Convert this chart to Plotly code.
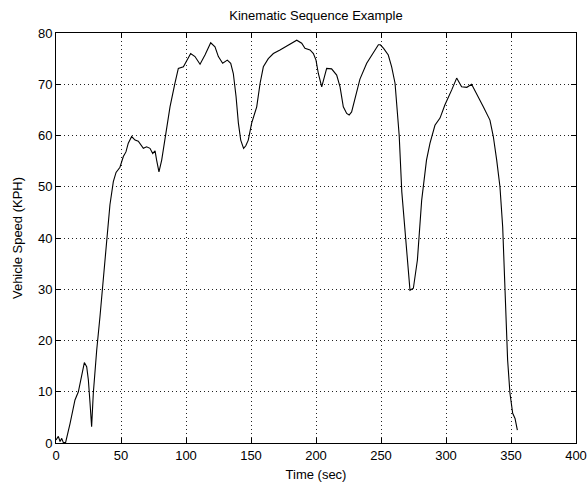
import plotly.graph_objects as go

time_sec = [0, 1.8, 3.1, 4.4, 5.6, 7.4, 10.8, 14.6, 17.2, 19.7, 21.8, 23.6, 24.9, 26.2, 27.4,
            28.7, 30, 31.3, 33.8, 36.4, 39, 41.5, 44.1, 46.2, 49.2, 51.8, 53.8, 55.6, 58.2,
            60.8, 63.3, 67.2, 69.7, 72.3, 74.4, 76.2, 77.4, 79.2, 81.3, 83.8, 85.6, 87.7,
            91.5, 94.1, 98, 100.5, 103.6, 106.9, 110.8, 114.6, 119, 122.3, 124.9, 128.2,
            131.8, 134.4, 136.4, 138.5, 140.3, 142.1, 144.3, 146, 147.9, 150.5, 154.4, 157,
            159.5, 163.3, 167.2, 172.3, 176.2, 181.3, 185.2, 189, 191.5, 195.4, 198, 200,
            201.8, 204.4, 206.4, 208.2, 212, 215.9, 218.5, 221, 223.6, 225.5, 227.4, 228.7,
            233.8, 239, 244.1, 248, 249.5, 252, 255.6, 258.2, 260.8, 262, 264, 266, 268.5,
            270.3, 272.3, 274.9, 278, 281.3, 285, 287.7, 291.5, 295.4, 299.2, 304.4, 308.2,
            312, 316, 319.7, 323.6, 328.7, 333.8, 336.4, 339, 341.5, 343.6, 344.6, 345.9,
            347.4, 349.2, 351.3, 353.1, 354.9]

speed_kph = [0.6, 1.3, 0.3, 0.9, 0.1, 0.1, 3.8, 8.4, 10.0, 12.9, 15.7, 14.9, 12.3, 7.7, 3.2,
             9.7, 14.9, 18.1, 24.6, 32.4, 40.5, 46.5, 51.0, 52.8, 53.8, 55.9, 56.8, 58.5, 59.8,
             59.1, 58.9, 57.5, 57.8, 57.5, 56.5, 57.0, 55.2, 52.9, 55.2, 59.1, 61.5, 65.6,
             70.2, 73.1, 73.4, 74.7, 76.0, 75.4, 73.9, 75.7, 78.1, 77.3, 75.4, 74.1,
             74.7, 74.1, 72.1, 67.6, 62.4, 59.1, 57.5, 58.0, 59.1, 62.4, 65.6, 70.2,
             73.4, 75.0, 76.0, 76.7, 77.3, 78.1, 78.6, 78.0, 77.0, 76.7, 76.0, 74.7,
             72.1, 69.5, 71.5, 73.1, 73.0, 71.8, 69.5, 65.6, 64.3, 64.0, 64.6, 66.0,
             71.0, 74.1, 76.0, 77.7, 77.7, 77.0, 75.7, 73.4, 70.2, 66.3, 60.0, 49.0, 41.0,
             34.4, 29.8, 30.2, 35.7, 47.4, 55.2, 58.5, 62.0, 63.4, 66.0, 68.9, 71.2,
             69.5, 69.4, 70.0, 68.2, 65.6, 63.0, 59.8, 55.2, 50.0, 42.2, 35.7, 26.0,
             16.2, 9.7, 5.8, 4.8, 2.5]

x_ticks = [0, 50, 100, 150, 200, 250, 300, 350, 400]
y_ticks = [0, 10, 20, 30, 40, 50, 60, 70, 80]

FONT = "Liberation Sans, Arial, sans-serif"

fig = go.Figure()
fig.add_trace(go.Scatter(x=time_sec, y=speed_kph, mode="lines",
                         line=dict(color="black", width=1.1), showlegend=False))

axis_common = dict(
    showline=True, linecolor="black", linewidth=1, mirror="ticks",
    ticks="inside", ticklen=5, tickcolor="black",
    showgrid=True, gridcolor="#222222", gridwidth=1, griddash="1px,3px",
    zeroline=False, automargin=False,
    tickfont=dict(family=FONT, size=13, color="black"),
)

fig.update_xaxes(range=[0, 400], tickvals=x_ticks, ticktext=[str(v) for v in x_ticks],
                 title=dict(text="Time (sec)", font=dict(family=FONT, size=13, color="black"),
                            standoff=8),
                 **axis_common)
fig.update_yaxes(range=[0, 80], tickvals=y_ticks, ticktext=[str(v) for v in y_ticks],
                 title=dict(text="Vehicle Speed (KPH)", font=dict(family=FONT, size=13, color="black"),
                            standoff=12),
                 **axis_common)

fig.update_layout(
    width=588, height=489,
    margin=dict(l=56, r=12, t=33, b=46),
    paper_bgcolor="white", plot_bgcolor="white",
    title=dict(text="Kinematic Sequence Example", x=0.5, xref="paper",
               y=1 - 15 / 489, yref="container", yanchor="middle",
               font=dict(family=FONT, size=13, color="black")),
)

fig.write_html("out.html")
